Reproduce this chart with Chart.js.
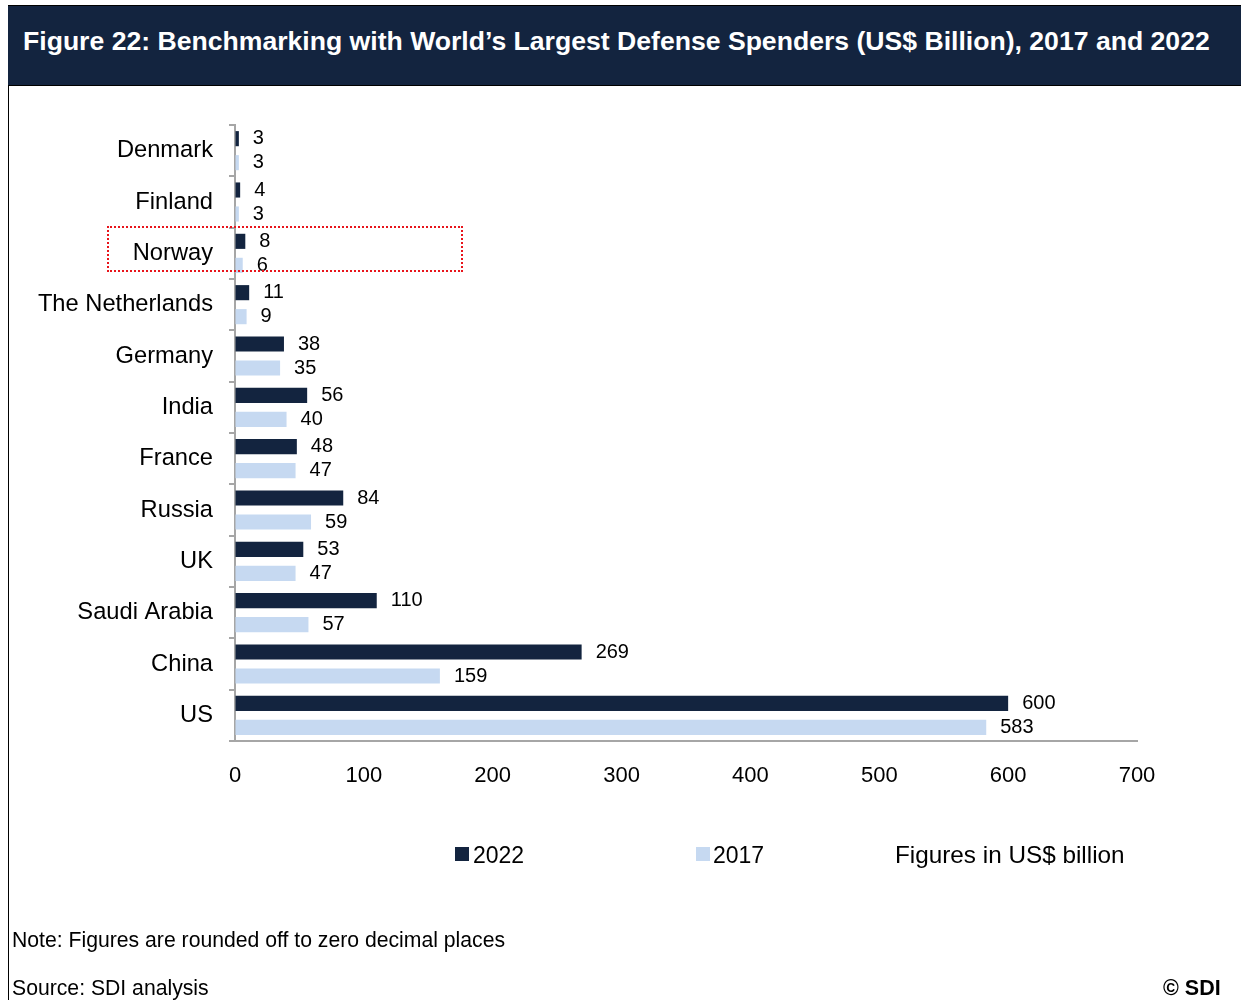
<!DOCTYPE html>
<html>
<head>
<meta charset="utf-8">
<script src="https://cdn.jsdelivr.net/npm/chart.js@4.4.1/dist/chart.umd.min.js"></script>
<style>
  html, body { margin: 0; padding: 0; background: #fff; }
  #page { position: relative; width: 1241px; height: 1000px; overflow: hidden; font-family: "Liberation Sans", Arial, sans-serif; }
  #header { position: absolute; left: 8px; top: 5px; width: 1233px; height: 79px; background: #13243f; border-top: 1px solid #000; border-bottom: 1px solid #000; }
  #header h1 { margin: 0; position: absolute; left: 15px; top: 20px; color: #fff; font-size: 26.6px; font-weight: bold; white-space: nowrap; }
  #leftline { position: absolute; left: 8px; top: 85px; width: 1px; height: 915px; background: #000; }
  #chartbox { position: absolute; left: 0; top: 0; width: 1241px; height: 1000px; }
  .txt { position: absolute; white-space: nowrap; color: #000; }
  .sw { position: absolute; width: 14px; height: 14px; }
  #norway { position: absolute; left: 107px; top: 226px; width: 352px; height: 42px; border: 2px dotted #e8141b; }
</style>
</head>
<body>
<div id="page">
  <div id="header"><h1>Figure 22: Benchmarking with World’s Largest Defense Spenders (US$ Billion), 2017 and 2022</h1></div>
  <div id="leftline"></div>
  <div id="chartbox"><canvas id="chart"></canvas></div>
  <div id="norway"></div>
  <div class="sw" style="left:455px;top:847px;background:#13243f"></div>
  <div class="txt" style="left:473px;top:842px;font-size:23px">2022</div>
  <div class="sw" style="left:696px;top:847px;background:#c6d9f1"></div>
  <div class="txt" style="left:713px;top:842px;font-size:23px">2017</div>
  <div class="txt" style="left:895px;top:841px;font-size:24.3px">Figures in US$ billion</div>
  <div class="txt" style="left:12px;top:928px;font-size:21.2px">Note: Figures are rounded off to zero decimal places</div>
  <div class="txt" style="left:12px;top:976px;font-size:21.2px">Source: SDI analysis</div>
  <div class="txt" style="left:1163px;top:976px;font-size:21.5px;font-weight:bold">© SDI</div>
</div>
<script>
const countries = ['Denmark', 'Finland', 'Norway', 'The Netherlands', 'Germany', 'India', 'France', 'Russia', 'UK', 'Saudi Arabia', 'China', 'US'];
const spend2022 = [3, 4, 8, 11, 38, 56, 48, 84, 53, 110, 269, 600];
const spend2017 = [3, 3, 6, 9, 35, 40, 47, 59, 47, 57, 159, 583];
const xTicks = [0, 100, 200, 300, 400, 500, 600, 700];

const navy = '#13243f';
const lightBlue = '#c6d9f1';
const axisGray = '#a6a6a6';

// value labels drawn just past the end of each bar
const valueLabels = {
  id: 'valueLabels',
  afterDatasetsDraw(chart) {
    const ctx = chart.ctx;
    ctx.save();
    ctx.font = '20px "Liberation Sans", Arial, sans-serif';
    ctx.fillStyle = '#000';
    ctx.textAlign = 'left';
    ctx.textBaseline = 'middle';
    chart.data.datasets.forEach(function (ds, i) {
      chart.getDatasetMeta(i).data.forEach(function (bar, j) {
        ctx.fillText(String(ds.data[j]), bar.x + 14, bar.y);
      });
    });
    ctx.restore();
  }
};

new Chart(document.getElementById('chart'), {
  type: 'bar',
  data: {
    labels: countries,
    datasets: [
      { label: '2022', data: spend2022, backgroundColor: navy, categoryPercentage: 0.935, barPercentage: 0.63 },
      { label: '2017', data: spend2017, backgroundColor: lightBlue, categoryPercentage: 0.935, barPercentage: 0.63 }
    ]
  },
  options: {
    indexAxis: 'y',
    responsive: true,
    maintainAspectRatio: false,
    animation: false,
    layout: { padding: { top: 125, right: 104, bottom: 199, left: 0 } },
    scales: {
      x: {
        min: 0,
        max: 700,
        afterBuildTicks: function (axis) { axis.ticks = xTicks.map(function (v) { return { value: v }; }); },
        afterFit: function (axis) { axis.height = 60; },
        border: { color: axisGray, width: 2 },
        grid: { drawOnChartArea: false, drawTicks: false },
        ticks: { color: '#000', padding: 22, maxRotation: 0, font: { size: 22, family: '"Liberation Sans", Arial, sans-serif' } }
      },
      y: {
        afterFit: function (axis) { axis.width = 235; },
        border: { color: axisGray, width: 2 },
        grid: { drawOnChartArea: false, drawTicks: true, tickLength: 6, color: axisGray, lineWidth: 2 },
        ticks: { color: '#000', padding: 16, font: { size: 23.7, family: '"Liberation Sans", Arial, sans-serif' } }
      }
    },
    plugins: {
      legend: { display: false },
      tooltip: { enabled: false }
    }
  },
  plugins: [valueLabels]
});
</script>
</body>
</html>
